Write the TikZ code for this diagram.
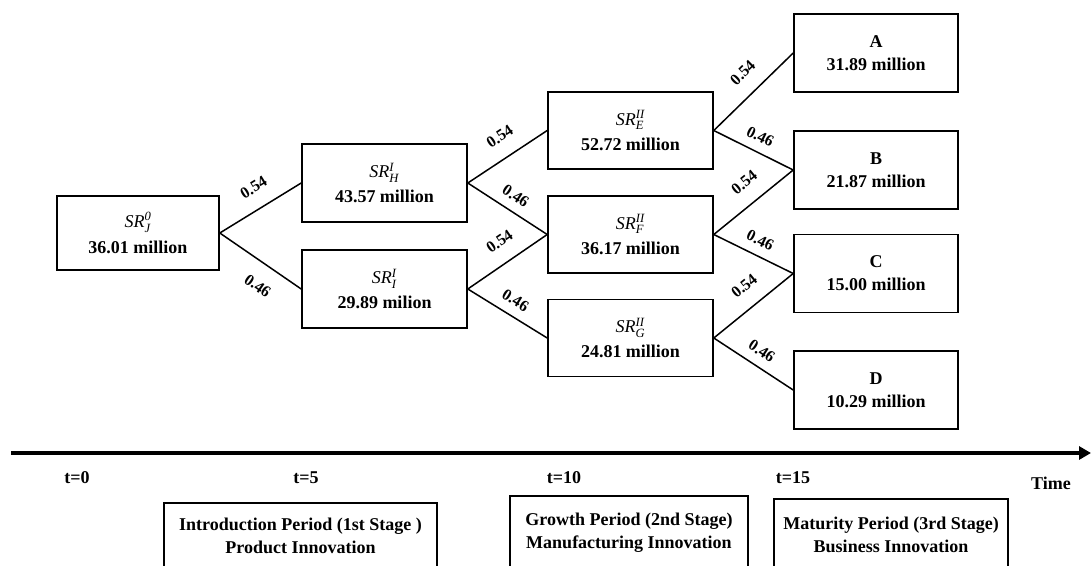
\documentclass[tikz,border=0pt]{standalone}
\usepackage{amsmath}
\usepackage{fontspec}
\setmainfont{Liberation Serif}
\usetikzlibrary{arrows.meta}

\newcommand{\srval}[2]{\textmd{\textit{SR}}$^{\textmd{\textit{#2}}}_{\textmd{\textit{#1}}}$}

\begin{document}
\begin{tikzpicture}[x=1pt, y=-1pt,
        state/.style={rectangle, draw, line width=1.6pt, minimum width=165pt, minimum height=78pt, inner sep=0pt, align=center, font=\fontsize{18}{23}\selectfont\bfseries},
        period/.style={rectangle, draw, line width=1.6pt, inner sep=0pt, align=center, font=\fontsize{18}{23}\selectfont\bfseries},
        branch/.style={line width=1.5pt},
        probup/.style={pos=0.55, sloped, above=15pt, inner sep=0pt, font=\fontsize{16}{16}\selectfont\bfseries},
        problow/.style={pos=0.5, sloped, above=9pt, inner sep=0pt, font=\fontsize{16}{16}\selectfont\bfseries},
        probunder/.style={pos=0.62, sloped, below=16pt, inner sep=0pt, font=\fontsize{16}{16}\selectfont\bfseries},
        tick/.style={inner sep=0pt, font=\fontsize{18}{18}\selectfont\bfseries},
        timeline/.style={-{Triangle[length=12pt,width=13pt]}, line width=3.5pt},
    ]
    \path[use as bounding box, clip] (0,0) rectangle (1091,565);
    % tree of values
    \node[state, minimum width=162pt, minimum height=74pt] (sj) at (138,233) {\srval{J}{0}\\[3pt]36.01 million};
    \node[state] (sh) at (384.5,183) {\srval{H}{I}\\[2pt]43.57 million};
    \node[state] (si) at (384.5,289) {\srval{I}{I}\\[2pt]29.89 milion};
    \node[state, minimum height=77pt] (se) at (630.5,130.5) {\srval{E}{II}\\[2pt]52.72 million};
    \node[state, minimum height=77pt] (sf) at (630.5,234.5) {\srval{F}{II}\\[2pt]36.17 million};
    \node[state, minimum height=77pt] (sg) at (630.5,338) {\srval{G}{II}\\[2pt]24.81 million};
    \node[state, minimum width=164pt] (la) at (876,53) {A\\31.89 million};
    \node[state, minimum width=164pt] (lb) at (876,170) {B\\21.87 million};
    \node[state, minimum width=164pt] (lc) at (876,273.5) {C\\15.00 million};
    \node[state, minimum width=164pt] (ld) at (876,390) {D\\10.29 million};
    \draw[branch] (sj.east) -- node[probup] {0.54} (sh.west);
    \draw[branch] (sj.east) -- node[probunder] {0.46} (si.west);
    \draw[branch] (sh.east) -- node[probup] {0.54} (se.west);
    \draw[branch] (sh.east) -- node[problow] {0.46} (sf.west);
    \draw[branch] (si.east) -- node[probup] {0.54} (sf.west);
    \draw[branch] (si.east) -- node[problow] {0.46} (sg.west);
    \draw[branch] (se.east) -- node[probup] {0.54} (la.west);
    \draw[branch] (se.east) -- node[problow] {0.46} (lb.west);
    \draw[branch] (sf.east) -- node[probup] {0.54} (lb.west);
    \draw[branch] (sf.east) -- node[problow] {0.46} (lc.west);
    \draw[branch] (sg.east) -- node[probup] {0.54} (lc.west);
    \draw[branch] (sg.east) -- node[problow] {0.46} (ld.west);
    % time axis
    \coordinate (tstart) at (11,453);
    \coordinate (tend) at (1091,453);
    \draw[timeline] (tstart) -- (tend);
    \node[tick] (t0) at (77,478) {t=0};
    \node[tick] (t5) at (306,478) {t=5};
    \node[tick] (t10) at (564,478) {t=10};
    \node[tick] (t15) at (793,478) {t=15};
    \node[tick] (time) at (1051,483) {Time};
    % stages
    \node[period, minimum width=273pt, minimum height=66pt] (intro) at (300.5,536) {Introduction Period (1st Stage )\\Product Innovation};
    \node[period, minimum width=238pt, minimum height=74pt] (growth) at (629,533) {Growth Period (2nd Stage)\\Manufacturing Innovation};
    \node[period, minimum width=234pt, minimum height=72pt] (mature) at (891,535) {Maturity Period (3rd Stage)\\Business Innovation};
\end{tikzpicture}
\end{document}
